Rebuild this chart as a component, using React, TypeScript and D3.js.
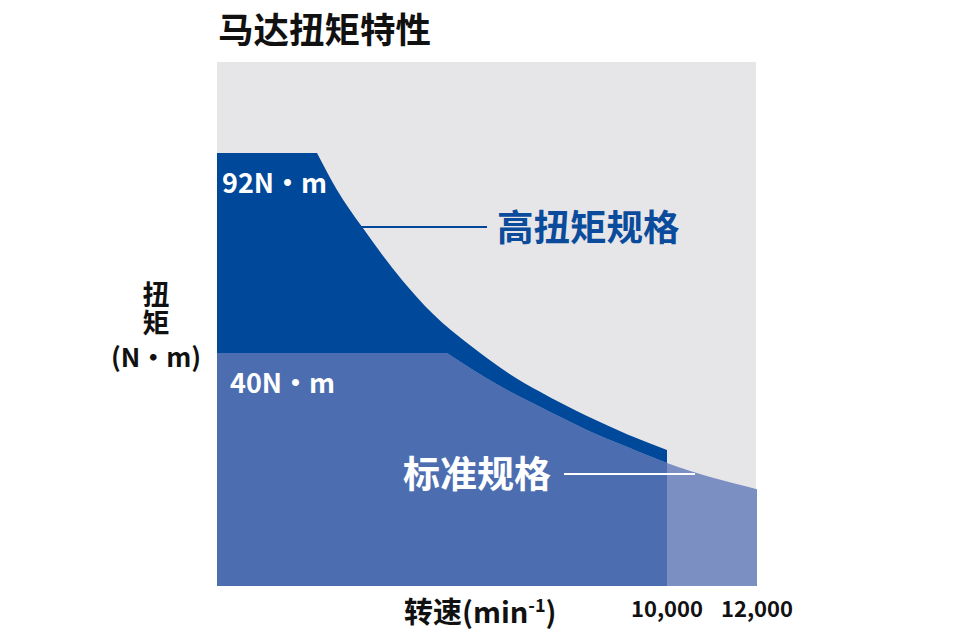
import React from "react";
import * as d3 from "d3";

const highRpm = [2222, 2667, 3222, 4111, 4778, 5667, 6511, 7178, 8222, 9111, 10000];
const highTorque = [92, 82.4, 72.8, 59.0, 50.4, 41.6, 34.5, 29.9, 23.6, 18.9, 14.8];
const stdRpm = [5111, 5622, 6289, 7178, 8222, 9111, 10000, 12000];
const stdTorque = [40, 36.1, 31.4, 26.0, 20.0, 15.6, 11.4, 4.6];
const maxTorqueLabels = ["92N・m", "40N・m"];
const maxTorques = [92, 40];
const xTickValues = [10000, 12000];
const xTickLabels = ["10,000", "12,000"];
const seriesNames = ["高扭矩规格", "标准规格"];
const yLabelLines = ["扭", "矩", "(N・m)"];

const FONT = "'Noto Sans CJK SC', 'Noto Sans', sans-serif";
const C_BG = "#e6e6e8";
const C_DARK = "#00489a";
const C_MED = "#4c6eb0";
const C_LIGHT = "#7b8fc2";

export default function App() {
  const W = 972, H = 640;
  const left = 217, right = 757, top = 62, bottom = 586;
  const x = d3.scaleLinear().domain([0, 12000]).range([left, right]);
  const y = d3.scaleLinear().domain([40, 92]).range([353, 153]);

  const line = d3
    .line<[number, number]>()
    .x((d) => x(d[0]))
    .y((d) => y(d[1]))
    .curve(d3.curveMonotoneX);

  const highPts: [number, number][] = highRpm.map((r, i) => [r, highTorque[i]]);
  const stdPts: [number, number][] = stdRpm.map((r, i) => [r, stdTorque[i]]);

  const curveTail = (pts: [number, number][]) => (line(pts) || "").replace(/^M[^LC]*/, "");

  const highPath =
    `M${x(0)},${bottom}L${x(0)},${y(maxTorques[0])}L${x(highRpm[0])},${y(highTorque[0])}` +
    curveTail(highPts) +
    `L${x(highRpm[highRpm.length - 1])},${bottom}Z`;
  const stdPath =
    `M${x(0)},${bottom}L${x(0)},${y(maxTorques[1])}L${x(stdRpm[0])},${y(stdTorque[0])}` +
    curveTail(stdPts) +
    `L${x(stdRpm[stdRpm.length - 1])},${bottom}Z`;

  return (
    <svg width={W} height={H} style={{ position: "absolute", left: 0, top: 0 }}>
      <defs>
        <clipPath id="clip10k">
          <rect x={left} y={top} width={x(10000) - left} height={bottom - top} />
        </clipPath>
      </defs>
      <rect x={0} y={0} width={W} height={H} fill="#fff" />
      <text x={218} y={43} fontFamily={FONT} fontWeight={700} fontSize={35.5} fill="#111">
        马达扭矩特性
      </text>
      <rect x={left} y={top} width={756 - left} height={bottom - top} fill={C_BG} />
      <path d={highPath} fill={C_DARK} />
      <path d={stdPath} fill={C_LIGHT} />
      <path d={stdPath} fill={C_MED} clipPath="url(#clip10k)" />

      <text x={222} y={193} fontFamily={FONT} fontWeight={700} fontSize={27} fill="#fff">
        {maxTorqueLabels[0]}
      </text>
      <text x={230} y={393} fontFamily={FONT} fontWeight={700} fontSize={27} fill="#fff">
        {maxTorqueLabels[1]}
      </text>

      <line x1={361} x2={487} y1={227} y2={227} stroke={C_DARK} strokeWidth={2} />
      <text x={497} y={241} fontFamily={FONT} fontWeight={700} fontSize={36.5} fill="#0a4b9c">
        {seriesNames[0]}
      </text>
      <line x1={564} x2={695} y1={474} y2={474} stroke="#fff" strokeWidth={2} />
      <text x={403} y={488} fontFamily={FONT} fontWeight={700} fontSize={37} fill="#fff">
        {seriesNames[1]}
      </text>

      <text fontFamily={FONT} fontWeight={700} fill="#111" fontSize={27} textAnchor="middle">
        {yLabelLines.map((s, i) => (
          <tspan key={i} x={156} y={[305, 333, 367][i]} fontSize={i === 2 ? 26 : 27}>
            {s}
          </tspan>
        ))}
      </text>

      <text x={404} y={623} fontFamily={FONT} fontWeight={700} fontSize={29} fill="#111">
        转速(min<tspan dy={-11} fontSize={18}>-1</tspan><tspan dy={11}>)</tspan>
      </text>
      {xTickValues.map((v, i) => (
        <text key={v} x={x(v)} y={617} fontFamily={FONT} fontWeight={700} fontSize={22}
          fill="#111" textAnchor="middle">
          {xTickLabels[i]}
        </text>
      ))}
    </svg>
  );
}
